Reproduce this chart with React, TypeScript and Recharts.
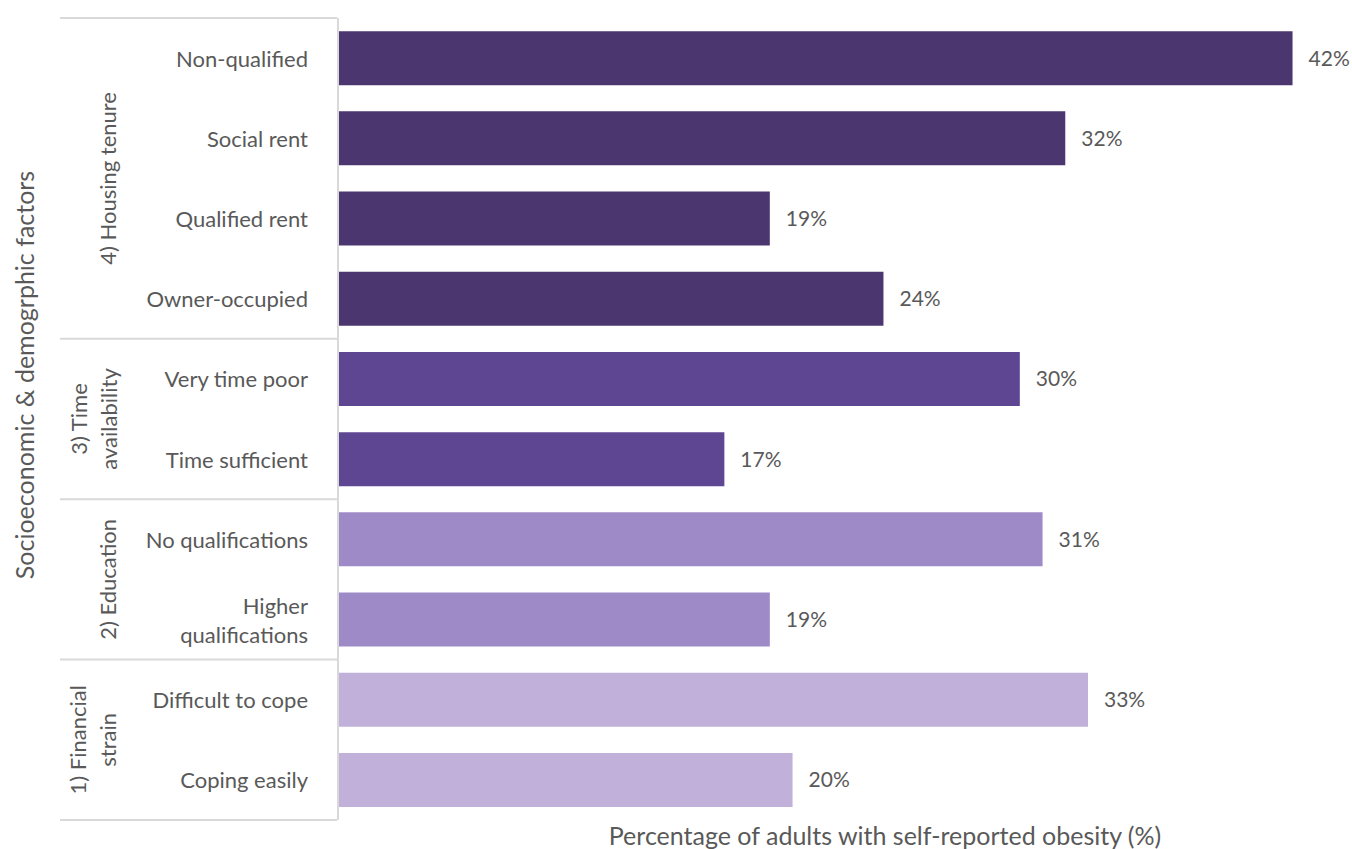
import React from 'react';
import { BarChart, Bar, XAxis, YAxis, Cell, LabelList } from 'recharts';

const categories = [
  'Non-qualified',
  'Social rent',
  'Qualified rent',
  'Owner-occupied',
  'Very time poor',
  'Time sufficient',
  'No qualifications',
  'Higher qualifications',
  'Difficult to cope',
  'Coping easily',
];
const values = [42, 32, 19, 24, 30, 17, 31, 19, 33, 20];
const groupIndex = [0, 0, 0, 0, 1, 1, 2, 2, 3, 3];
const groupLabels = [
  ['4) Housing tenure'],
  ['3) Time', 'availability'],
  ['2) Education'],
  ['1) Financial', 'strain'],
];
const groupColors = ['#4B3670', '#5E4693', '#9E8AC7', '#C0B0DA'];
const categoryLines: Record<string, string[]> = {
  'Higher qualifications': ['Higher', 'qualifications'],
};
const xTitle = 'Percentage of adults with self-reported obesity (%)';
const yTitle = 'Socioeconomic & demogrphic factors';

const data = categories.map((c, i) => ({ name: c, value: values[i], group: groupIndex[i] }));

const W = 1352;
const H = 849;
const MARGIN = { top: 18, right: 14, bottom: 29, left: 0 };
const AXIS_W = 337;
const FONT = 'Lato, "Open Sans", sans-serif';
const TEXT = '#595959';
const LINE = '#D9D9D9';
const FS = 22;
const FS_VAL = 21;
const FS_TITLE = 25;

const rowH = (H - MARGIN.top - MARGIN.bottom) / categories.length;

const Tick = (props: any) => {
  const { y, payload, index } = props;
  const name: string = payload.value;
  const lines = categoryLines[name] || [name];
  const g = groupIndex[index];
  const firstOfGroup = index === 0 || groupIndex[index - 1] !== g;
  const els: any[] = [];
  const lh = 29;
  lines.forEach((ln, k) => {
    els.push(
      <text
        key={'c' + k}
        x={308}
        y={y + (k - (lines.length - 1) / 2) * lh}
        textAnchor="end"
        dominantBaseline="central"
        fill={TEXT}
        fontSize={FS}
        fontFamily={FONT}
      >
        {ln}
      </text>
    );
  });
  if (firstOfGroup) {
    const top = y - rowH / 2;
    els.push(<line key="sep" x1={60} x2={AXIS_W} y1={top} y2={top} stroke={LINE} strokeWidth={2} />);
    const n = groupIndex.filter((v) => v === g).length;
    const cy = y + ((n - 1) / 2) * rowH;
    const gl = groupLabels[g];
    const xs = gl.length === 1 ? [108] : [78, 108];
    gl.forEach((t, k) => {
      els.push(
        <text
          key={'g' + k}
          x={xs[k]}
          y={cy}
          transform={`rotate(-90, ${xs[k]}, ${cy})`}
          textAnchor="middle"
          dominantBaseline="central"
          fill={TEXT}
          fontSize={FS}
          fontFamily={FONT}
        >
          {t}
        </text>
      );
    });
  }
  if (index === categories.length - 1) {
    const bot = y + rowH / 2;
    els.push(<line key="bot" x1={60} x2={AXIS_W} y1={bot} y2={bot} stroke={LINE} strokeWidth={2} />);
  }
  if (index === 0) {
    els.push(
      <text
        key="ytitle"
        x={24}
        y={375}
        transform={`rotate(-90, 24, 375)`}
        textAnchor="middle"
        dominantBaseline="central"
        fill={TEXT}
        fontSize={FS_TITLE}
        fontFamily={FONT}
      >
        {yTitle}
      </text>
    );
  }
  return <g>{els}</g>;
};

export default function App() {
  return (
    <div style={{ position: 'absolute', left: 0, top: 0, width: W, height: H, background: '#fff' }}>
      <BarChart
        width={W}
        height={H}
        data={data}
        layout="vertical"
        margin={MARGIN}
        barCategoryGap="16.4%"
      >
        <XAxis type="number" domain={[0, 44]} hide />
        <YAxis
          type="category"
          dataKey="name"
          width={AXIS_W + 1}
          axisLine={{ stroke: LINE, strokeWidth: 2 }}
          tickLine={false}
          tick={<Tick />}
          interval={0}
        />
        <Bar dataKey="value" isAnimationActive={false}>
          {data.map((d, i) => (
            <Cell key={i} fill={groupColors[d.group]} />
          ))}
          <LabelList
            dataKey="value"
            position="right"
            offset={16}
            formatter={(v: any) => `${v}%`}
            fill={TEXT}
            fontSize={FS_VAL}
            fontFamily={FONT}
          />
        </Bar>
      </BarChart>
      <div
        style={{
          position: 'absolute',
          left: 885,
          top: 835,
          transform: 'translate(-50%, -50%)',
          whiteSpace: 'nowrap',
          color: TEXT,
          fontSize: FS_TITLE,
          fontFamily: FONT,
        }}
      >
        {xTitle}
      </div>
    </div>
  );
}
